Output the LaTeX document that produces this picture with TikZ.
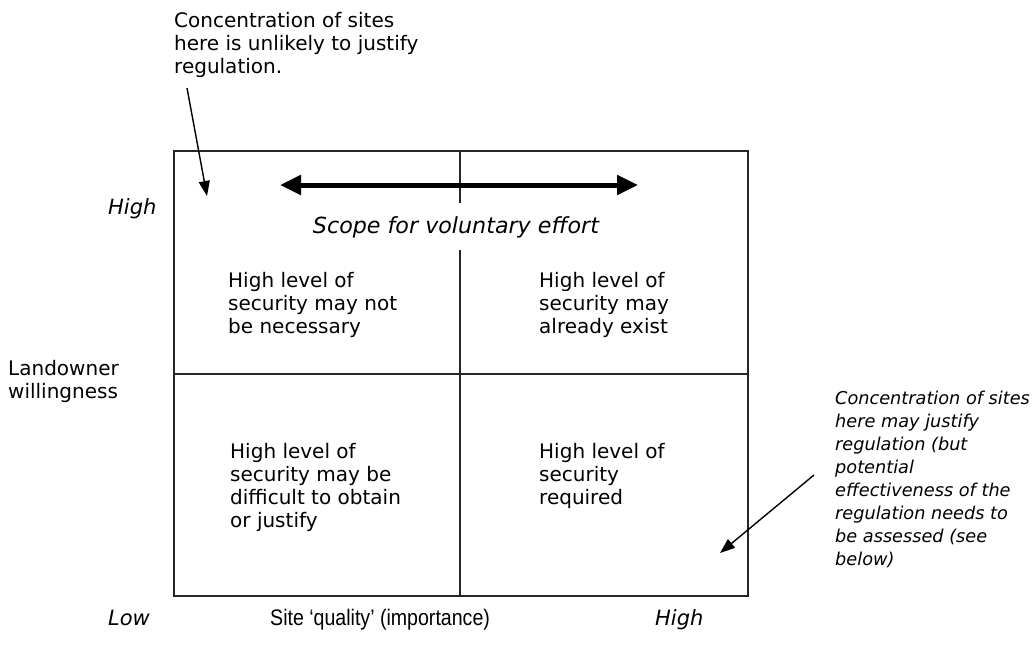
\documentclass[tikz,border=0pt]{standalone}
\usepackage{fontspec}
\setmainfont{DejaVu Sans}
\newfontfamily\narrowfont[FakeStretch=0.87]{Liberation Sans}
\usetikzlibrary{arrows.meta}
\tikzset{
  frame/.style={line width=2pt, draw=black!85},
  txt/.style={inner sep=0pt, anchor=north west, align=left, font=\fontsize{20}{23}\selectfont},
  itx/.style={inner sep=0pt, font=\fontsize{21}{23}\selectfont\itshape},
  rtx/.style={inner sep=0pt, anchor=north west, align=left, font=\fontsize{17.7}{23}\selectfont\itshape},
  thin arrow/.style={line width=1.4pt, -{Triangle[length=15pt,width=11pt]}},
  thick arrow/.style={line width=5pt, {Triangle[length=21pt,width=19pt]}-{Triangle[length=21pt,width=19pt]}}
}
\begin{document}
\begin{tikzpicture}[x=1pt,y=-1pt]
\useasboundingbox (0,0) rectangle (1034,659);
% grid
\coordinate (tl) at (174,151);
\coordinate (br) at (748,596);
\draw[frame] (tl) rectangle (br);
\coordinate (vt) at (460,151);
\coordinate (vg1) at (460,203);
\coordinate (vg2) at (460,250);
\coordinate (vb) at (460,596);
\coordinate (hl) at (174,374);
\coordinate (hr) at (748,374);
\draw[frame] (vt) -- (vg1);
\draw[frame] (vg2) -- (vb);
\draw[frame] (hl) -- (hr);
% double arrow
\coordinate (da1) at (280,185);
\coordinate (da2) at (638,185);
\draw[thick arrow] (da1) -- (da2);
% texts
\node[txt] (note1) at (174,12) {Concentration of sites\\here is unlikely to justify\\regulation.};
\coordinate (a1s) at (187,88);
\coordinate (a1e) at (207,196);
\draw[thin arrow] (a1s) -- (a1e);
\node[itx, anchor=base west] (hiY) at (108,214) {High};
\node[itx, anchor=base, font=\fontsize{22.2}{23}\selectfont\itshape] (scope) at (456,233) {Scope for voluntary effort};
\node[txt] (c11) at (228,272) {High level of\\security may not\\be necessary};
\node[txt] (c12) at (539,272) {High level of\\security may\\already exist};
\node[txt] (yl) at (8,360) {Landowner\\willingness};
\node[txt] (c21) at (230,443) {High level of\\security may be\\difficult to obtain\\or justify};
\node[txt] (c22) at (539,443) {High level of\\security\\required};
\node[rtx] (note2) at (835,391) {Concentration of sites\\here may justify\\regulation (but\\potential\\effectiveness of the\\regulation needs to\\be assessed (see\\below)};
\coordinate (a2s) at (814,475);
\coordinate (a2e) at (720,553);
\draw[thin arrow] (a2s) -- (a2e);
\node[itx, anchor=base west] (loX) at (108,625) {Low};
\node[inner sep=0pt, anchor=base west, font=\narrowfont\fontsize{22.5}{23}\selectfont] (xl) at (270,625) {Site ‘quality’ (importance)};
\node[itx, anchor=base west] (hiX) at (655,625) {High};
\end{tikzpicture}
\end{document}
